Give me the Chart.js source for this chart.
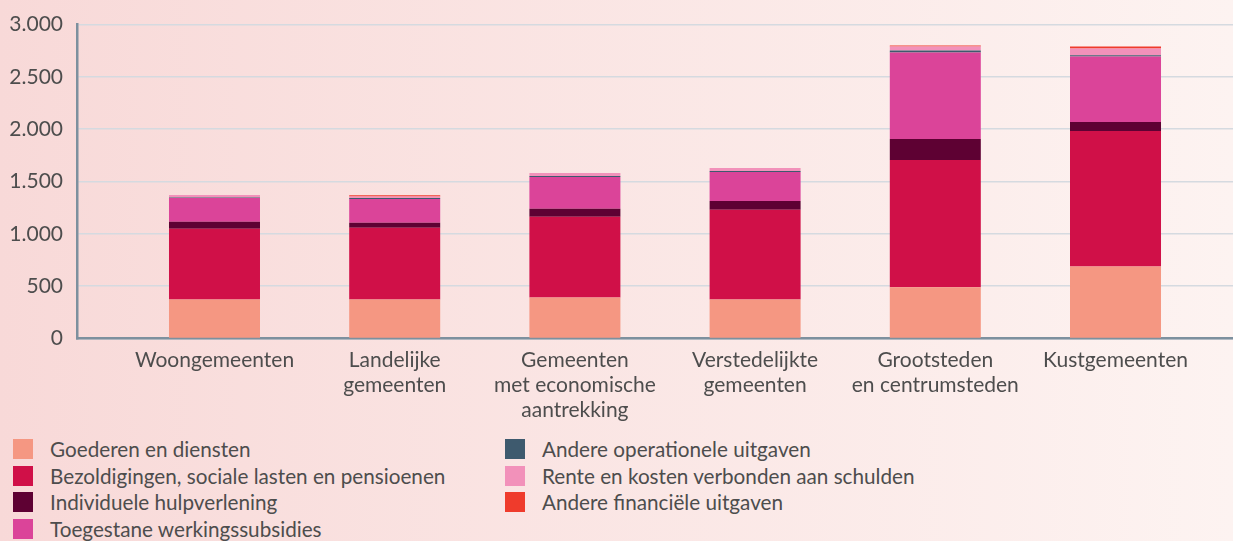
<!DOCTYPE html>
<html>
<head>
<meta charset="utf-8">
<script src="https://cdn.jsdelivr.net/npm/chart.js@4"></script>
<style>
  html, body { margin: 0; padding: 0; }
  body {
    width: 1233px;
    height: 541px;
    overflow: hidden;
    background: linear-gradient(to right, #f8d9d8, #fdf3f1);
    font-family: "Lato", "Liberation Sans", sans-serif;
    position: relative;
  }
  #wrap { position: absolute; left: 0; top: 0; width: 1233px; height: 432px; }
  #legend {
    position: absolute;
    left: 13px;
    top: 439px;
    display: grid;
    grid-auto-flow: column;
    grid-template-rows: repeat(4, 26.5px);
    grid-template-columns: 492px 500px;
    color: #4d4d4d;
    font-size: 20.7px;
  }
  .item { display: flex; align-items: flex-start; height: 26.5px; }
  .box { width: 20px; height: 20px; margin-right: 17px; flex: none; }
  .item span { line-height: 22px; margin-top: -1px; }
</style>
</head>
<body>
<div id="wrap"><canvas id="chart"></canvas></div>
<div id="legend"></div>

<script>
const categories = [
  ["Woongemeenten"],
  ["Landelijke", "gemeenten"],
  ["Gemeenten", "met economische", "aantrekking"],
  ["Verstedelijkte", "gemeenten"],
  ["Grootsteden", "en centrumsteden"],
  ["Kustgemeenten"],
];

const seriesNames = [
  "Goederen en diensten",
  "Bezoldigingen, sociale lasten en pensioenen",
  "Individuele hulpverlening",
  "Toegestane werkingssubsidies",
  "Andere operationele uitgaven",
  "Rente en kosten verbonden aan schulden",
  "Andere financiële uitgaven",
];

const seriesColors = ["#f59782", "#d01048", "#5e0133", "#db4499", "#3e5a6e", "#f291ba", "#ef3b2c"];

// per categorie, in volgorde van categories
const goederen     = [371, 371, 390, 371, 489, 686];
const bezoldiging  = [677, 686, 772, 858, 1216, 1295];
const hulpverlening = [66, 48, 76, 85, 200, 86];
const subsidies    = [229, 228, 305, 276, 828, 628];
const andereOper   = [3, 8, 10, 10, 19, 10];
const rente        = [25, 15, 28, 29, 38, 66];
const andereFin    = [0, 12, 0, 0, 10, 19];

const yTicks = [0, 500, 1000, 1500, 2000, 2500, 3000];

const series = [goederen, bezoldiging, hulpverlening, subsidies, andereOper, rente, andereFin];

function formatNl(v) {
  return String(v).replace(/\B(?=(\d{3})+(?!\d))/g, ".");
}

const font = { family: "Lato, 'Liberation Sans', sans-serif", size: 21 };

const chart = new Chart(document.getElementById("chart"), {
  type: "bar",
  data: {
    labels: categories.map((c, i) => i),
    datasets: series.map((data, i) => ({
      label: seriesNames[i],
      data: data,
      backgroundColor: seriesColors[i],
      borderWidth: 0,
      categoryPercentage: 1,
      barPercentage: 0.505,
    })),
  },
  options: {
    responsive: true,
    maintainAspectRatio: false,
    animation: false,
    layout: { padding: { top: 23, right: 0, bottom: 0, left: 0 } },
    plugins: { legend: { display: false }, tooltip: { enabled: false } },
    scales: {
      x: {
        type: "linear",
        stacked: true,
        offset: false,
        min: -0.763,
        max: 5.652,
        grid: { display: false, drawTicks: false },
        border: { display: true, color: "#7d909e", width: 2.5 },
        ticks: {
          stepSize: 1,
          includeBounds: false,
          autoSkip: false,
          maxRotation: 0,
          padding: 9,
          color: "#4d4d4d",
          font: font,
          callback: (v) => categories[v] || "",
        },
      },
      y: {
        stacked: true,
        min: 0,
        max: 3000,
        afterFit: (scale) => { scale.width = 77; },
        afterBuildTicks: (scale) => { scale.ticks = yTicks.map((v) => ({ value: v })); },
        grid: { color: "#d5dae0", lineWidth: 1.5, drawTicks: false },
        border: { display: true, color: "#7d909e", width: 2.5 },
        ticks: {
          padding: 14,
          color: "#4d4d4d",
          font: { family: font.family, size: 21, lineHeight: 1 },
          callback: (v) => formatNl(v),
        },
      },
    },
  },
});

const legend = document.getElementById("legend");
chart.data.datasets.forEach((ds) => {
  legend.innerHTML += `<div class="item"><div class="box" style="background:${ds.backgroundColor}"></div><span>${ds.label}</span></div>`;
});
</script>
</body>
</html>
